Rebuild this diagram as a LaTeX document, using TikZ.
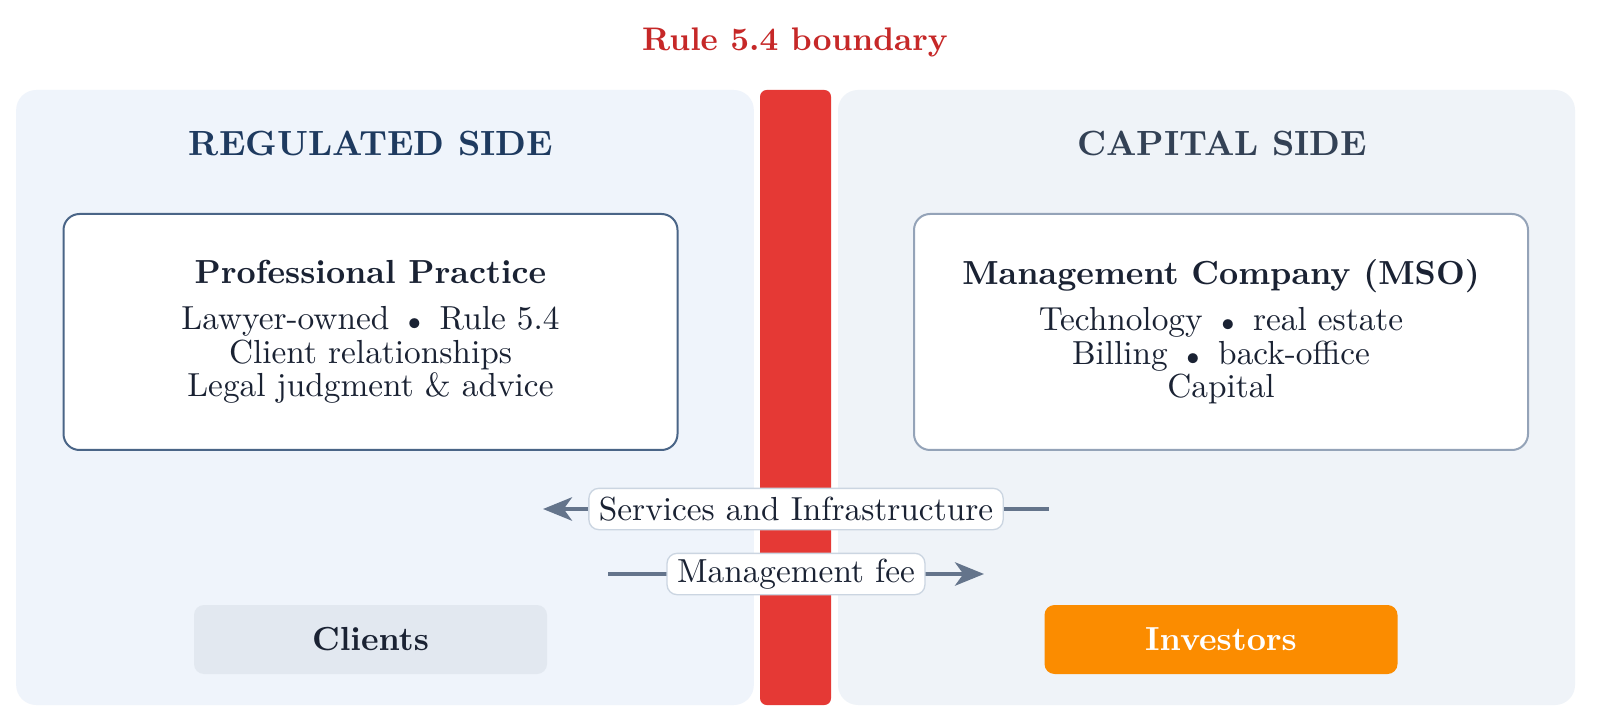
\documentclass[tikz,border=0pt]{standalone}
\usetikzlibrary{arrows.meta}
\definecolor{leftbg}{HTML}{EFF4FB}
\definecolor{rightbg}{HTML}{EFF3F8}
\definecolor{barred}{HTML}{E53935}
\definecolor{titlered}{HTML}{C62828}
\definecolor{navy}{HTML}{1E3A5F}
\definecolor{slatehead}{HTML}{334155}
\definecolor{ink}{HTML}{1A2233}
\definecolor{ppborder}{HTML}{4A6587}
\definecolor{msoborder}{HTML}{94A3B8}
\definecolor{arrowc}{HTML}{64748B}
\definecolor{lblborder}{HTML}{CBD5E1}
\definecolor{clientfill}{HTML}{E2E8F0}
\definecolor{investfill}{HTML}{FB8C00}
\newcommand{\sepdot}{\hspace{5.5pt}$\scriptstyle\bullet$\hspace{5.5pt}}
\begin{document}
\begin{tikzpicture}[x=0.3pt,y=-0.3pt,
  panel/.style={rectangle, rounded corners=6pt, draw=none, inner sep=0pt, minimum height=184.5pt},
  heading/.style={font=\fontsize{10.5}{12}\selectfont\bfseries},
  entity/.style={rectangle, rounded corners=4.8pt, fill=white, line width=0.6pt, minimum width=184.2pt, minimum height=70.8pt, align=center, text=ink, font=\fontsize{10}{10}\selectfont},
  party/.style={rectangle, rounded corners=3pt, minimum width=105.9pt, minimum height=20.7pt, font=\fontsize{10}{12}\selectfont\bfseries},
  flow/.style={draw=arrowc, line width=1.2pt, -{Stealth[length=8.7pt,width=7pt,inset=2.5pt]}},
  flowlbl/.style={rectangle, rounded corners=3pt, fill=white, draw=lblborder, line width=0.4pt, text=ink, font=\fontsize{10}{12}\selectfont, inner xsep=3pt, inner ysep=1pt, minimum height=12.4pt}
]
\useasboundingbox[fill=white] (0,0) rectangle (1607,722);
\node[panel, fill=leftbg, minimum width=221.3pt] (left) at (385,397.5) {};
\node[panel, fill=rightbg, minimum width=221.1pt] (right) at (1206.5,397.5) {};
\node[rectangle, rounded corners=2pt, fill=barred, minimum width=21.3pt, minimum height=184.5pt, inner sep=0pt] (bar) at (795.5,397.5) {};
\node[text=titlered, font=\fontsize{9.8}{12}\selectfont\bfseries] (title) at (795,42) {Rule 5.4 boundary};
\node[heading, text=navy] (lhead) at (371,143.5) {REGULATED SIDE};
\node[heading, text=slatehead] (rhead) at (1222,143.5) {CAPITAL SIDE};
\node[entity, draw=ppborder] (pp) at (370.5,332) {{\bfseries Professional Practice}\\[3.8pt]Lawyer-owned\sepdot Rule 5.4\\Client relationships\\Legal judgment \& advice};
\node[entity, draw=msoborder] (mso) at (1221,332) {{\bfseries Management Company (MSO)}\\[3.8pt]Technology\sepdot real estate\\Billing\sepdot back-office\\Capital};
\node[party, fill=clientfill, text=ink] (clients) at (370.5,639.5) {Clients};
\node[party, fill=investfill, text=white] (investors) at (1221,639.5) {Investors};
\coordinate (s1) at (1049,509);
\coordinate (s2) at (543,509);
\coordinate (m1) at (608,574);
\coordinate (m2) at (984,574);
\draw[flow] (s1) -- node[flowlbl] (slbl) {Services and Infrastructure} (s2);
\draw[flow] (m1) -- node[flowlbl] (mlbl) {Management fee} (m2);
\end{tikzpicture}
\end{document}
